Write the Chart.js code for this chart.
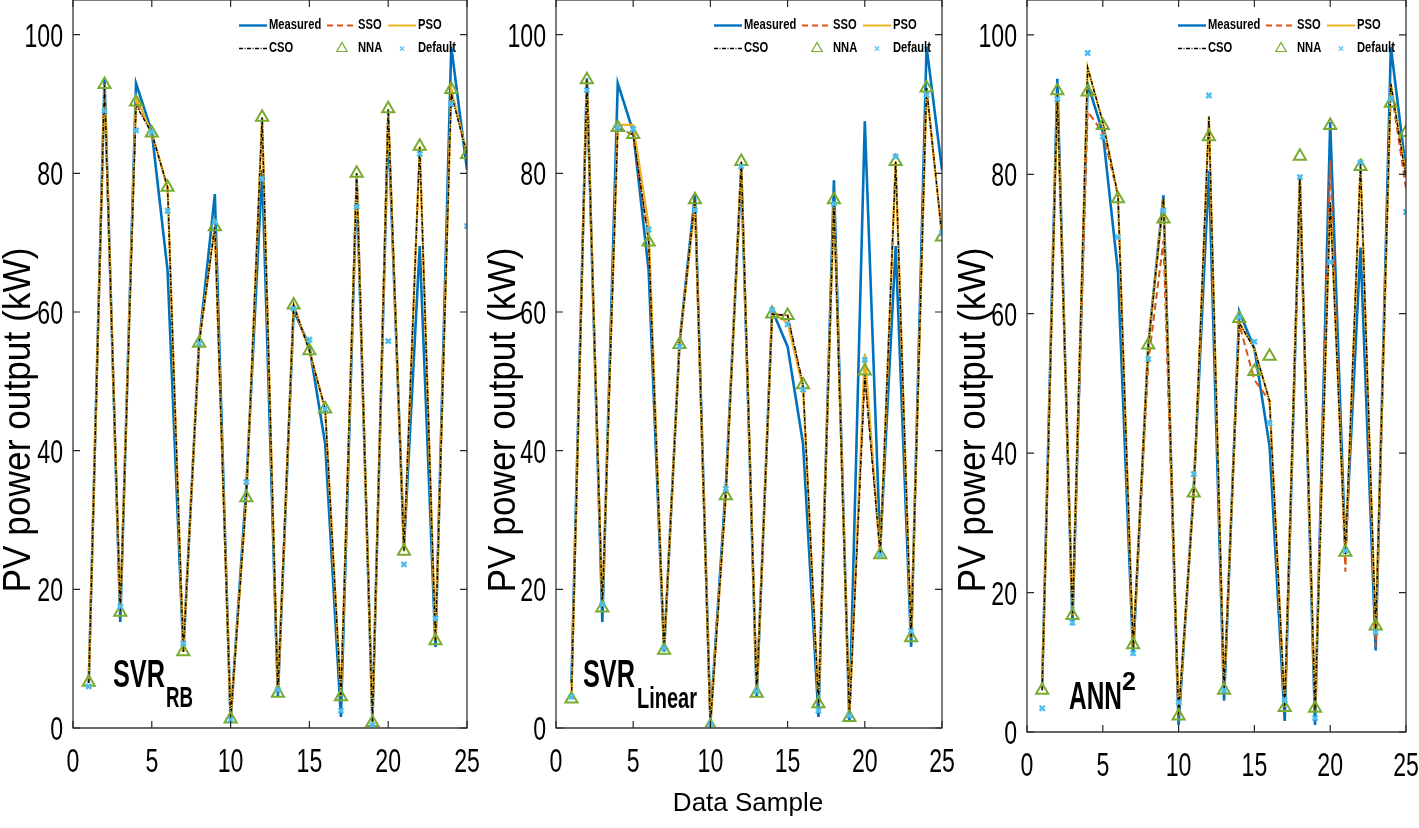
<!DOCTYPE html>
<html>
<head>
<meta charset="utf-8">
<script src="https://cdn.jsdelivr.net/npm/chart.js@4.4.1/dist/chart.umd.min.js"></script>
<style>
  html, body { margin: 0; padding: 0; background: #fff; }
  #wrap { position: relative; width: 1419px; height: 828px; overflow: hidden; }
  #wrap canvas { position: absolute; left: 0; top: 0; }
</style>
</head>
<body>
<div id="wrap">
  <canvas id="p1" width="1419" height="828"></canvas>
  <canvas id="p2" width="1419" height="828"></canvas>
  <canvas id="p3" width="1419" height="828"></canvas>
</div>
<script>
/* ── Data ── */
const samples  = [1,2,3,4,5,6,7,8,9,10,11,12,13,14,15,16,17,18,19,20,21,22,23,24,25];
const xTicks   = [0, 5, 10, 15, 20, 25];
const yTicks   = [0, 20, 40, 60, 80, 100];

const measured = [6.5, 93.7, 15.3, 93, 86, 66, 11, 55.5, 77, 1, 35, 80.5, 4.5, 60.3, 55, 41, 1.6, 79, 1, 87.5, 26, 69.5, 11.7, 98.3, 80.5];

// SVR RB
const rbSSO     = [6.5, 92.8, 16.7, 90.3, 85.8, 78, 11, 55.5, 72.3, 1.3, 33.2, 88.1, 5, 61, 54.4, 46, 4.5, 80, 0.8, 89.3, 25.5, 83.9, 12.6, 92.1, 82.7];
const rbPSO     = [6.5, 92.8, 16.7, 91, 85.8, 78, 11, 55.5, 72.3, 1.3, 33.2, 88.1, 5, 61, 54.4, 46, 4.5, 80, 0.8, 89.3, 25.5, 83.9, 12.6, 92.1, 82.7];
const rbCSO     = [6.5, 92.8, 16.7, 89.8, 85.8, 78, 11, 55.5, 72.3, 1.3, 33.2, 88.1, 5, 61, 54.4, 46, 4.5, 80, 0.8, 89.3, 25.5, 83.9, 12.6, 91.5, 82.7];
const rbNNA     = [6.6, 92.8, 16.7, 90.3, 85.8, 78, 11, 55.5, 72.3, 1.3, 33.2, 88.1, 5, 61, 54.4, 46, 4.5, 80, 0.8, 89.3, 25.5, 83.9, 12.6, 92.1, 82.7];
const rbDefault = [6, 89, 17.5, 86.2, 85.9, 74.6, 12.2, 55.5, 73, 1.2, 35.5, 79.2, 5.5, 60.5, 56, 46, 2.5, 75.2, 0.4, 55.8, 23.6, 82.8, 15.8, 90, 72.4];

// SVR Linear
const linSSO     = [4.2, 93.5, 17.3, 86.5, 85.6, 70, 11.2, 55.3, 76.2, 0.3, 33.5, 81.7, 5, 59.7, 59.5, 49.5, 3.5, 76, 1.5, 51, 25, 81.7, 13, 92.3, 71];
const linPSO     = [4.2, 93.5, 17.3, 87, 87, 72.5, 11.2, 55.3, 75.5, 0.3, 33.5, 81.7, 5, 59.8, 58.5, 49, 3.5, 76, 1.5, 54, 25, 81.7, 13, 92, 71];
const linCSO     = [4.2, 93.5, 17.3, 86.5, 85.6, 70.5, 11.2, 55.3, 76.2, 0.3, 33.5, 81.7, 5, 59.7, 59.5, 49.5, 3.5, 76, 1.5, 51, 25, 81.7, 13, 92.3, 71];
const linNNA     = [4.2, 93.5, 17.3, 86.6, 85.6, 70.1, 11.2, 55.3, 76.2, 0.3, 33.5, 81.7, 5, 59.7, 59.5, 49.5, 3.5, 76.2, 1.5, 51.5, 25, 81.7, 13, 92.3, 70.8];
const linDefault = [4.5, 92, 17.8, 86.6, 86.4, 71.9, 11.5, 55, 74.7, 0.5, 34.5, 81, 5.3, 60.3, 58.2, 48.8, 2.5, 75.6, 1.8, 53.1, 25, 82.4, 14, 91.3, 71.4];

// ANN^2
const annSSO     = [6, 91.5, 16.5, 89, 86, 77, 12, 53, 70.5, 2, 34, 88, 6, 58.5, 50.5, 47.5, 3.5, 79.5, 3, 82, 23, 81.5, 12.2, 92.5, 78];
const annPSO     = [6, 91.5, 16.7, 95.3, 87.5, 77, 12, 55.5, 76.5, 2.5, 34.2, 88.3, 6, 58.7, 55, 47.5, 3.5, 79.5, 3, 76, 25.5, 81.5, 14.5, 93, 80];
const annCSO     = [6, 91.5, 16.7, 95.3, 87.5, 77, 12, 55.5, 76.5, 2.5, 34.2, 88.3, 6, 58.7, 55, 47.5, 3.5, 79.5, 3, 76, 25.5, 81.5, 14.5, 93, 79.5];
const annNNA     = [6, 92, 16.7, 91.8, 87, 76.5, 12.5, 55.5, 73.6, 2.3, 34.3, 85.4, 6, 59.3, 51.7, 53.9, 3.5, 82.6, 3.4, 87, 25.8, 81.1, 15.2, 90.2, 86];
const annDefault = [3.4, 90.8, 15.7, 97.4, 85.4, 71, 11.3, 53.5, 74.8, 4.3, 37, 91.3, 6, 59.5, 56, 44.3, 4.6, 79.6, 2, 67.4, 26, 81.7, 14.3, 90.8, 74.6];

/* ── Styles ── */
const C_MEAS = '#0072BD';
const C_SSO  = '#D95319';
const C_PSO  = '#EDB120';
const C_CSO  = '#000000';
const C_NNA  = '#77AC30';
const C_DEF  = '#4DBEEE';
const FONT   = '"Liberation Sans", Arial, Helvetica, sans-serif';

const pts = vals => samples.map((x, i) => ({ x, y: vals[i] }));

function buildDatasets(sso, pso, cso, nna, def) {
  return [
    { label: 'Measured', data: pts(measured), borderColor: C_MEAS, borderWidth: 2.6, pointRadius: 0, order: 5 },
    { label: 'SSO', data: pts(sso), borderColor: C_SSO, borderWidth: 2, borderDash: [7, 4], pointRadius: 0, order: 4 },
    { label: 'PSO', data: pts(pso), borderColor: C_PSO, borderWidth: 2.2, pointRadius: 0, order: 3 },
    { label: 'CSO', data: pts(cso), borderColor: C_CSO, borderWidth: 1.4, borderDash: [4, 1.5, 1, 1.5], pointRadius: 0, order: 2 },
    { label: 'NNA', data: pts(nna), showLine: false, pointStyle: 'triangle', pointRadius: 7,
      pointBorderColor: C_NNA, pointBackgroundColor: 'rgba(0,0,0,0)', pointBorderWidth: 2, order: 1 },
    { label: 'Default', data: pts(def), showLine: false, pointStyle: 'crossRot', pointRadius: 3.6,
      pointBorderColor: C_DEF, pointBorderWidth: 2.4, order: 0 },
  ];
}

/* ── Frame, ticks, text, legend ── */
const framePlugin = {
  id: 'frame',
  afterDraw(chart) {
    const { ctx, chartArea: a, scales: { x, y } } = chart;
    const o = chart.options.plugins.frame;
    ctx.save();

    // box
    ctx.strokeStyle = '#262626';
    ctx.lineWidth = 1.2;
    ctx.strokeRect(a.left, a.top, a.right - a.left, a.bottom - a.top);
    ctx.strokeStyle = '#666';
    ctx.lineWidth = 2;
    ctx.beginPath(); ctx.moveTo(a.left, a.bottom); ctx.lineTo(a.right, a.bottom); ctx.stroke();

    // inward ticks
    ctx.strokeStyle = '#262626';
    ctx.lineWidth = 1.2;
    const tl = 7;
    xTicks.forEach(v => {
      const px = x.getPixelForValue(v);
      ctx.beginPath();
      ctx.moveTo(px, a.bottom); ctx.lineTo(px, a.bottom - tl);
      ctx.moveTo(px, a.top); ctx.lineTo(px, a.top + tl);
      ctx.stroke();
    });
    yTicks.forEach(v => {
      const py = y.getPixelForValue(v);
      ctx.beginPath();
      ctx.moveTo(a.left, py); ctx.lineTo(a.left + tl, py);
      ctx.moveTo(a.right, py); ctx.lineTo(a.right - tl, py);
      ctx.stroke();
    });

    // tick labels (condensed)
    ctx.fillStyle = '#000';
    ctx.font = '33px ' + FONT;
    const squeeze = (t) => ctx.measureText(t).width * 0.7;
    ctx.textBaseline = 'alphabetic';
    ctx.textAlign = 'right';
    yTicks.forEach(v => {
      const t = String(v);
      ctx.fillText(t, a.left - 10, y.getPixelForValue(v) + 12, squeeze(t));
    });
    ctx.textAlign = 'center';
    xTicks.forEach(v => {
      const t = String(v);
      ctx.fillText(t, x.getPixelForValue(v), a.bottom + 44, squeeze(t));
    });

    // y title
    ctx.save();
    ctx.translate(o.yTitleX, 420);
    ctx.rotate(-Math.PI / 2);
    ctx.font = '38px ' + FONT;
    ctx.textAlign = 'center';
    ctx.textBaseline = 'middle';
    ctx.fillText('PV power output (kW)', 0, 0, 345);
    ctx.restore();

    // x title
    if (o.xTitle) {
      ctx.font = '26px ' + FONT;
      ctx.textAlign = 'center';
      ctx.textBaseline = 'alphabetic';
      ctx.fillText(o.xTitle, 748, 811);
    }

    // model annotation
    ctx.textAlign = 'left';
    ctx.textBaseline = 'alphabetic';
    ctx.font = 'bold 38px ' + FONT;
    ctx.fillText(o.main, o.mainX, o.mainY, o.mainW);
    ctx.font = 'bold ' + o.subSize + 'px ' + FONT;
    ctx.fillText(o.sub, o.subX, o.subY, o.subW);

    // legend
    const R = a.right;
    const r1 = 25.5, r2 = 48.5;
    ctx.font = 'bold 14px ' + FONT;
    ctx.textBaseline = 'middle';
    const txt = (t, px, py) => ctx.fillText(t, px, py, ctx.measureText(t).width * 0.8);
    const seg = (x0, py, col, w, dash) => {
      ctx.save();
      ctx.strokeStyle = col; ctx.lineWidth = w; ctx.setLineDash(dash);
      ctx.beginPath(); ctx.moveTo(x0, py); ctx.lineTo(x0 + 28, py); ctx.stroke();
      ctx.restore();
    };
    seg(R - 228, r1, C_MEAS, 2.4, []);
    txt('Measured', R - 198, r1);
    seg(R - 140, r1, C_SSO, 2, [6, 4]);
    txt('SSO', R - 109, r1);
    seg(R - 79, r1, C_PSO, 2, []);
    txt('PSO', R - 49, r1);
    seg(R - 228, r2, C_CSO, 1.4, [4, 1.5, 1, 1.5]);
    txt('CSO', R - 198, r2);
    ctx.strokeStyle = C_NNA;
    ctx.fillStyle = 'rgba(0,0,0,0)';
    Chart.helpers.drawPoint(ctx, { pointStyle: 'triangle', radius: 6, rotation: 0, borderWidth: 2 }, R - 125, r2);
    ctx.strokeStyle = C_DEF;
    Chart.helpers.drawPoint(ctx, { pointStyle: 'crossRot', radius: 3, rotation: 0, borderWidth: 2.2 }, R - 65, r2);
    ctx.fillStyle = '#000';
    txt('NNA', R - 109, r2);
    txt('Default', R - 49, r2);

    ctx.restore();
  },
};

function makePanel(id, box, datasets, frame) {
  return new Chart(document.getElementById(id), {
    type: 'line',
    data: { datasets },
    options: {
      responsive: false,
      animation: false,
      devicePixelRatio: 1,
      layout: { autoPadding: false, padding: { left: box.left, right: 1419 - box.right, top: box.top, bottom: 828 - box.bottom } },
      elements: { line: { tension: 0, fill: false } },
      plugins: { legend: { display: false }, tooltip: { enabled: false }, frame },
      scales: {
        x: { type: 'linear', min: 0, max: 25, display: false },
        y: { type: 'linear', min: 0, max: 105, display: false },
      },
    },
    plugins: [framePlugin],
  });
}

makePanel('p1', { left: 73, right: 467, top: 0, bottom: 728 },
  buildDatasets(rbSSO, rbPSO, rbCSO, rbNNA, rbDefault),
  { yTitleX: 20, main: 'SVR', mainX: 113, mainY: 687, mainW: 52, sub: 'RB', subSize: 30, subX: 166, subY: 707, subW: 27 });

makePanel('p2', { left: 556, right: 942, top: 0, bottom: 728 },
  buildDatasets(linSSO, linPSO, linCSO, linNNA, linDefault),
  { yTitleX: 505, xTitle: 'Data Sample', main: 'SVR', mainX: 583, mainY: 687, mainW: 52, sub: 'Linear', subSize: 30, subX: 637, subY: 708, subW: 60 });

makePanel('p3', { left: 1027, right: 1406, top: 0, bottom: 732 },
  buildDatasets(annSSO, annPSO, annCSO, annNNA, annDefault),
  { yTitleX: 975, main: 'ANN', mainX: 1069, mainY: 709, mainW: 53, sub: '2', subSize: 25, subX: 1122, subY: 690, subW: 14 });
</script>
</body>
</html>
